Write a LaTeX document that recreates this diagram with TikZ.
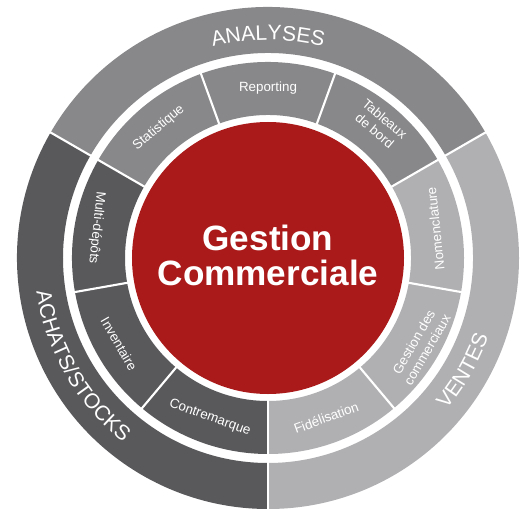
\documentclass[tikz,border=0pt]{standalone}
\usepackage{xcolor}
\usepackage{fontspec}
\setmainfont{Liberation Sans}
\usepackage{tikz}
\usetikzlibrary{decorations.text}

\definecolor{analyses}{HTML}{88878A}
\definecolor{achats}{HTML}{59585B}
\definecolor{ventes}{HTML}{B0AFB2}
\definecolor{rouge}{HTML}{AB1A1A}

\begin{document}
\begin{tikzpicture}[
    itemtext/.style={text=white, font=\fontsize{9.5}{11}\selectfont, align=center},
    ringtext/.style={decorate, decoration={text along path, text align=center, text color=white}},
    split/.style={white, line width=1.5pt}
  ]
            \useasboundingbox (-6.7,-6.25) rectangle (6.3,6.45);

            % outer ring
            \fill[analyses] (30:6.275) arc[start angle=30, end angle=150, radius=6.275] -- (150:5.125) arc[start angle=150, end angle=30, radius=5.125] -- cycle;
            \fill[achats] (150:6.275) arc[start angle=150, end angle=270, radius=6.275] -- (270:5.125) arc[start angle=270, end angle=150, radius=5.125] -- cycle;
            \fill[ventes] (270:6.275) arc[start angle=270, end angle=390, radius=6.275] -- (30:5.125) arc[start angle=390, end angle=270, radius=5.125] -- cycle;

            % inner ring
            \fill[analyses] (30:4.9) arc[start angle=30, end angle=150, radius=4.9] -- (150:3.575) arc[start angle=150, end angle=30, radius=3.575] -- cycle;
            \fill[achats] (150:4.9) arc[start angle=150, end angle=270, radius=4.9] -- (270:3.575) arc[start angle=270, end angle=150, radius=3.575] -- cycle;
            \fill[ventes] (270:4.9) arc[start angle=270, end angle=390, radius=4.9] -- (30:3.575) arc[start angle=390, end angle=270, radius=3.575] -- cycle;

            % splits
            \draw[split] (30:3.5) -- (30:6.4); % analyses-ventes
            \draw[split] (150:3.5) -- (150:6.4); % analyses-achats
            \draw[split] (270:3.5) -- (270:6.4); % achats-ventes
            \draw[split] (70:3.5) -- (70:5.0);
            \draw[split] (110:3.5) -- (110:5.0);
            \draw[split] (190:3.5) -- (190:5.0);
            \draw[split] (230:3.5) -- (230:5.0);
            \draw[split] (310:3.5) -- (310:5.0);
            \draw[split] (350:3.5) -- (350:5.0);

            % centre
            \fill[rouge] (0,0) circle (3.4);
            \node[text=white, align=center, font=\bfseries\fontsize{25}{25}\selectfont] (gestion) at (0,0.07) {Gestion\\Commerciale};

            % ring titles
            \path[ringtext, decoration={text={|\fontsize{15}{15}\selectfont|ANALYSES}}] (150:5.45) arc[start angle=150, end angle=30, radius=5.45];
            \path[ringtext, decoration={text={|\fontsize{15}{15}\selectfont|ACHATS/STOCKS}}] (170:5.85) arc[start angle=170, end angle=250, radius=5.85];
            \path[ringtext, decoration={text={|\fontsize{15}{15}\selectfont|VENTES}}] (290:5.85) arc[start angle=290, end angle=370, radius=5.85];

            % items
            \node[itemtext, rotate=40] (stat) at (130:4.25) {Statistique};
            \node[itemtext] (report) at (90:4.25) {Reporting};
            \node[itemtext, rotate=-40] (tableaux) at (50:4.35) {Tableaux\\de bord};
            \node[itemtext, rotate=96] (nomencl) at (10:4.25) {Nomenclature};
            \node[itemtext, rotate=60] (commerciaux) at (330:4.4) {Gestion des\\commerciaux};
            \node[itemtext, rotate=20] (fidel) at (290:4.25) {Fidélisation};
            \node[itemtext, rotate=-20] (contre) at (250:4.25) {Contremarque};
            \node[itemtext, rotate=-60] (invent) at (210:4.3) {Inventaire};
            \node[itemtext, rotate=-96] (multi) at (170:4.35) {Multi-dépôts};
        \end{tikzpicture}
\end{document}
